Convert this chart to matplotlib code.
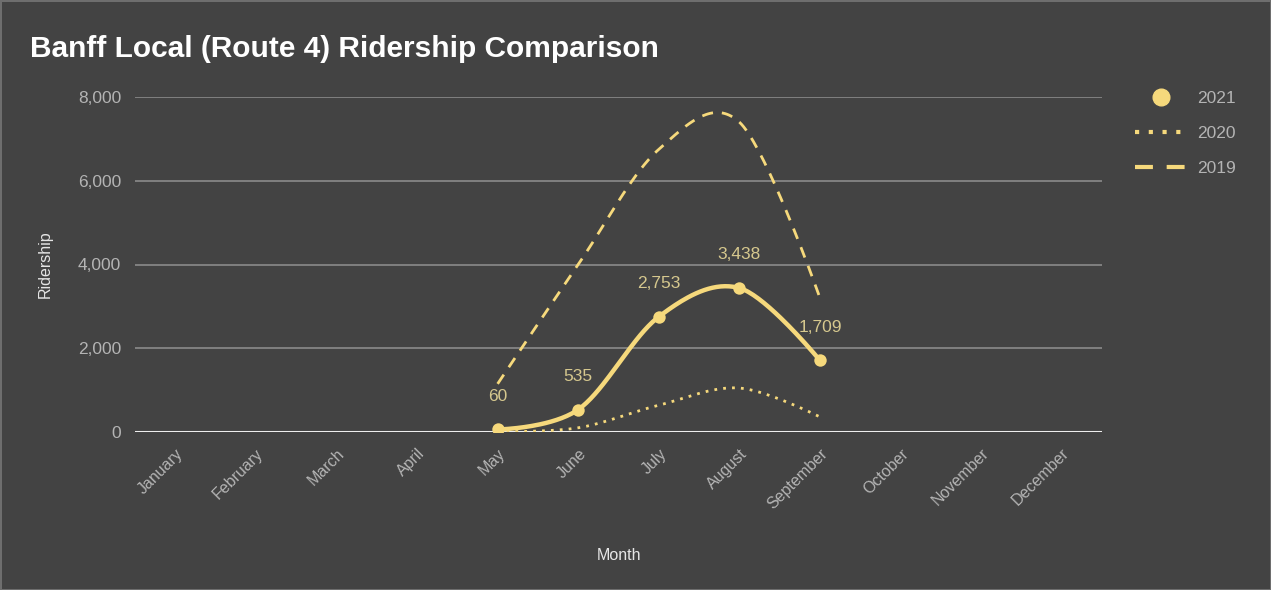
import numpy as np
import matplotlib
matplotlib.use("Agg")
import matplotlib.pyplot as plt
from matplotlib.lines import Line2D

plt.rcParams['font.family'] = ['Liberation Sans', 'DejaVu Sans']

months = ["January", "February", "March", "April", "May", "June", "July",
          "August", "September", "October", "November", "December"]
# Riders per month (May through September)
season_months = ["May", "June", "July", "August", "September"]
riders_2021 = [60, 535, 2753, 3438, 1709]
riders_2020 = [10, 100, 640, 1050, 360]
riders_2019 = [1150, 4000, 6750, 7400, 3200]
y_ticks = [0, 2000, 4000, 6000, 8000]

BG = "#434343"
LINE = "#f6d97c"
LABEL = "#d6c88e"
TICK = "#b4b4b4"


def smooth(xs, ys, n=40):
    """Bezier-smoothed path through the points (curved line style)."""
    pts = np.column_stack([xs, ys]).astype(float)
    out = [pts[0]]
    k = len(pts)
    for i in range(k - 1):
        p0 = pts[i]
        p3 = pts[i + 1]
        prev = pts[i - 1] if i > 0 else pts[i]
        nxt = pts[i + 2] if i + 2 < k else pts[i + 1]
        c1 = p0 + (p3 - prev) / 6.0 if i > 0 else p0
        c2 = p3 - (nxt - p0) / 6.0 if i + 2 < k else p3
        t = np.linspace(0, 1, n)[1:, None]
        seg = ((1 - t) ** 3) * p0 + 3 * ((1 - t) ** 2) * t * c1 \
            + 3 * (1 - t) * t ** 2 * c2 + t ** 3 * p3
        out.extend(seg)
    out = np.array(out)
    return out[:, 0], out[:, 1]


fig = plt.figure(figsize=(12.71, 5.90), dpi=100, facecolor=BG)
fig.patch.set_edgecolor("#6e6e6e")
fig.patch.set_linewidth(2.0)
ax = fig.add_axes([135 / 1271, 158 / 590, 967 / 1271, 335 / 590])
ax.set_facecolor(BG)

x_idx = np.arange(len(months))
xs = np.array([months.index(m) for m in season_months])

sx, sy = smooth(xs, riders_2019)
ax.plot(sx, sy, color=LINE, lw=2.0, dashes=(4, 3.2), zorder=3,
        solid_capstyle="butt", dash_capstyle="butt")
sx, sy = smooth(xs, riders_2020)
ax.plot(sx, sy, color=LINE, lw=2.0, dashes=(1, 2.2), zorder=3)
sx, sy = smooth(xs, riders_2021)
ax.plot(sx, sy, color=LINE, lw=3.2, zorder=4, solid_capstyle="round")
ax.scatter(xs, riders_2021, s=80, color=LINE, zorder=5, linewidths=0)

for x, v in zip(xs, riders_2021):
    ax.annotate(f"{v:,}", (x, v), xytext=(0, 24), textcoords="offset points",
                ha="center", va="center", color=LABEL, fontsize=12.5)

ax.set_xlim(-0.5, len(months) - 0.5)
ax.set_ylim(0, 8000)
ax.set_yticks(y_ticks)
ax.set_yticklabels([f"{t:,}" for t in y_ticks])
ax.set_xticks(x_idx)
ax.set_xticklabels(months, rotation=45, ha="right", va="top",
                   rotation_mode="anchor")
ax.tick_params(axis="both", length=0, colors=TICK)
ax.tick_params(axis="y", pad=10, labelsize=12.5)
ax.tick_params(axis="x", pad=10, labelsize=11.5)

for t in y_ticks[1:]:
    ax.axhline(t, color="#8a8a8a", lw=1.2, zorder=1)
ax.axhline(0, color="#eeeeee", lw=2.2, zorder=2)
for s in ax.spines.values():
    s.set_visible(False)

ax.set_xlabel("Month", color="#e6e6e6", fontsize=11.5, labelpad=26)
ax.set_ylabel("Ridership", color="#e6e6e6", fontsize=11.5, labelpad=18)

fig.text(30 / 1271, 1 - 49 / 590, "Banff Local (Route 4) Ridership Comparison",
         color="white", fontsize=21.5, fontweight="bold", va="center", ha="left")

handles = [
    Line2D([], [], color=LINE, marker="o", markersize=12, lw=0),
    Line2D([], [], color=LINE, lw=3.0, dashes=(1, 2.3)),
    Line2D([], [], color=LINE, lw=3.0, dashes=(4.3, 3.3)),
]
leg = fig.legend(handles, ["2021", "2020", "2019"], loc="upper left",
                 bbox_to_anchor=(1119 / 1271, 1 - 75 / 590), frameon=False,
                 handlelength=3.0, labelspacing=1.15, handletextpad=0.6,
                 fontsize=12.5)
for t in leg.get_texts():
    t.set_color(TICK)

fig.savefig("out.png", dpi=100, facecolor=BG, edgecolor=fig.get_edgecolor())
